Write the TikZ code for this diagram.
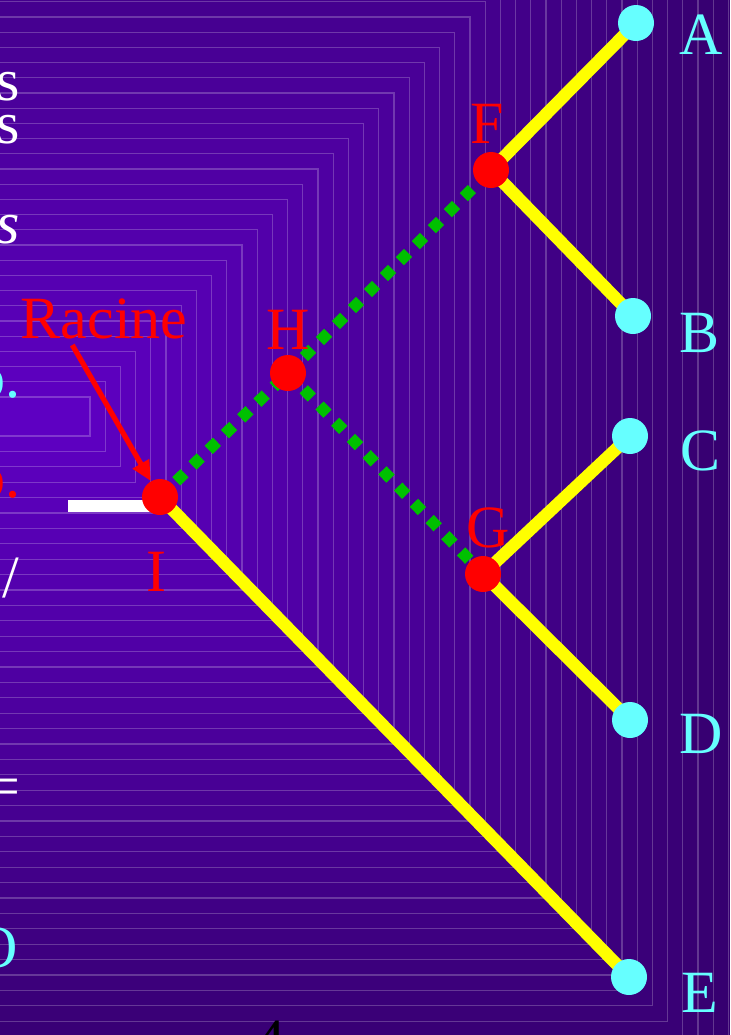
\documentclass[tikz,border=0pt]{standalone}
\usepackage{fontspec}
\setmainfont{Liberation Serif}
\usetikzlibrary{arrows.meta, calc}
\definecolor{SlideInner}{RGB}{94,0,194}
\definecolor{SlideOuter}{RGB}{54,0,112}
\definecolor{LeafCyan}{HTML}{66FFFF}
\definecolor{BranchYellow}{HTML}{FFFF00}
\definecolor{DotGreen}{HTML}{00C000}
\pgfdeclarelayer{bg}
\pgfdeclarelayer{edges}
\pgfsetlayers{bg,edges,main}

\begin{document}
\begin{tikzpicture}[x=0.5pt, y=-0.5pt,
    every node/.style={font=\fontsize{30}{36}\selectfont, inner sep=0pt},
    inner/.style={circle, fill=red, minimum size=18pt},
    leaf/.style={circle, fill=LeafCyan, minimum size=18pt},
    innerlbl/.style={text=red, anchor=base},
    leaflbl/.style={text=LeafCyan, anchor=base},
    branch/.style={BranchYellow, line width=6.2pt},
    greenbranch/.style={DotGreen, line width=5.8pt, dash pattern=on 5.8pt off 5.5pt},
    edgetext/.style={anchor=base east, text=white}]
    \useasboundingbox (0,0) rectangle (730,1035);

    \begin{pgfonlayer}{bg}
    \fill[SlideOuter] (0,0) rectangle (730,1035);
    \foreach \j in {42,...,0}{
        \pgfmathsetmacro{\rgt}{90+15.2*\j}
        \pgfmathsetmacro{\tp}{397-15.2*\j}
        \pgfmathsetmacro{\bt}{436+15.4*\j}
        \pgfmathtruncatemacro{\shade}{100*(42-\j)/42}
        \filldraw[fill=SlideInner!\shade!SlideOuter, draw=white, draw opacity=0.22, line width=0.6pt] (-5,\tp) rectangle (\rgt,\bt);
    }
    \end{pgfonlayer}

    \node[inner] (I) at (160,497) {};
    \node[inner] (H) at (288,373) {};
    \node[inner] (F) at (491,170) {};
    \node[inner] (G) at (483,574) {};
    \node[leaf] (A) at (636,23) {};
    \node[leaf] (B) at (633,316) {};
    \node[leaf] (C) at (630,436) {};
    \node[leaf] (D) at (630,720) {};
    \node[leaf] (E) at (629,977) {};

    \node[leaflbl] (Alab) at (701,54) {A};
    \node[leaflbl] (Blab) at (700,352) {B};
    \node[leaflbl] (Clab) at (701,470) {C};
    \node[leaflbl] (Dlab) at (701,753) {D};
    \node[leaflbl] (Elab) at (700,1012) {E};
    \node[innerlbl] (Flab) at (487,143) {F};
    \node[innerlbl] (Hlab) at (288,349) {H};
    \node[innerlbl] (Glab) at (488,547) {G};
    \node[innerlbl] (Ilab) at (156,591) {I};
    \node[innerlbl] (racine) at (104,338) {Racine};

    \node[edgetext] (frag1) at (20,100) {s};
    \node[edgetext] (frag2) at (20,143) {s};
    \node[edgetext] (frag3) at (20,243) {\itshape s};
    \node[edgetext, text=LeafCyan] (frag4) at (21,397) {o.};
    \node[edgetext, text=red] (frag5) at (21,497) {o.};
    \node[edgetext] (frag6) at (20,597) {/};
    \node[edgetext] (frag7) at (21,806) {=};
    \node[edgetext, text=LeafCyan] (frag8) at (18,967) {O};
    \node[anchor=base, text=black] (pagenum) at (270,1060) {4};

    \begin{pgfonlayer}{edges}
    \draw[branch] (F.center) -- (A.center);
    \draw[branch] (F.center) -- (B.center);
    \draw[branch] (G.center) -- (C.center);
    \draw[branch] (G.center) -- (D.center);
    \draw[branch] (I.center) -- (E.center);
    \draw[greenbranch] (I.center) -- (H.center);
    \draw[greenbranch] (H.center) -- (F.center);
    \draw[greenbranch] (H.center) -- (G.center);
    \coordinate (stub) at (68,506);
    \draw[white, line width=6pt] (stub) -- (stub -| I);
    \end{pgfonlayer}

    \draw[red, line width=2.6pt, -{Triangle[length=10pt, width=9pt]}] ($(racine.base west)+(52,7)$) -- (I.120);
\end{tikzpicture}
\end{document}
